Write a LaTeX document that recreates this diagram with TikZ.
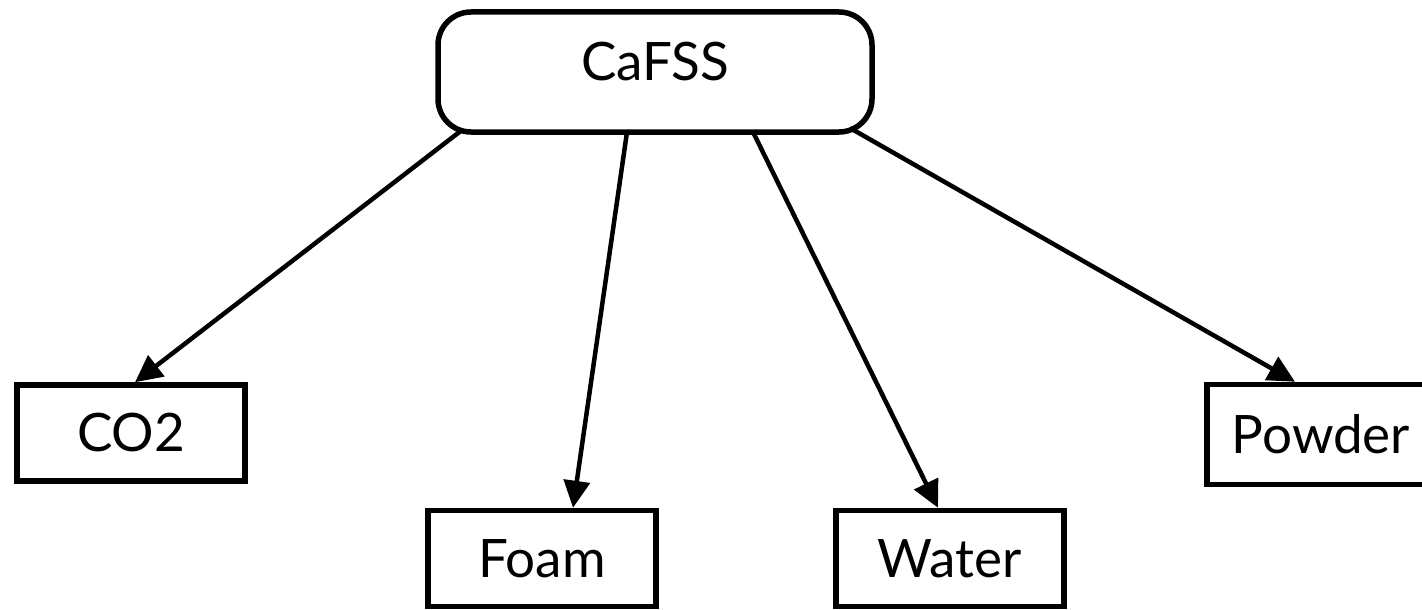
\documentclass[tikz,border=0pt]{standalone}
\usepackage{fontspec}
\setmainfont{Lato}
\usetikzlibrary{arrows.meta}

\tikzset{
  boxtext/.style={font=\fontsize{53pt}{53pt}\selectfont, text height=37pt, text depth=0pt,
                  inner sep=0pt, outer sep=2.75pt, line width=5.5pt, draw=black, fill=white},
  rootbox/.style={boxtext, rounded corners=33pt, minimum width=434pt, minimum height=120pt,
                  text depth=19pt},
  leafbox/.style={boxtext, minimum width=228pt, minimum height=96pt},
  link/.style={line width=4.5pt, -{Triangle[length=27pt,width=26pt]}}
}

\begin{document}
\begin{tikzpicture}[x=1pt,y=-1pt]
  \useasboundingbox (0,0) rectangle (1422,610);

  % root and the four extinguisher types
  \node[rootbox] (root) at (655,72) {CaFSS};
  \node[leafbox] (co2) at (131,433) {CO2};
  \node[leafbox] (foam) at (542,558.5) {Foam};
  \node[leafbox] (water) at (950,558.5) {Water};
  \node[leafbox, minimum height=100pt] (powder) at (1321,434.5) {Powder};

  % connectors from the root box
  \draw[link] ([xshift=-193pt,yshift=4.75pt]root.south) -- ([xshift=4pt]co2.north);
  \draw[link] ([xshift=-28pt,yshift=2.75pt]root.south) -- ([xshift=31pt]foam.north);
  \draw[link] ([xshift=98pt,yshift=2.75pt]root.south) -- ([xshift=-12pt]water.north);
  \draw[link] ([xshift=195pt,yshift=6.75pt]root.south) -- ([xshift=-26pt]powder.north);
\end{tikzpicture}
\end{document}
